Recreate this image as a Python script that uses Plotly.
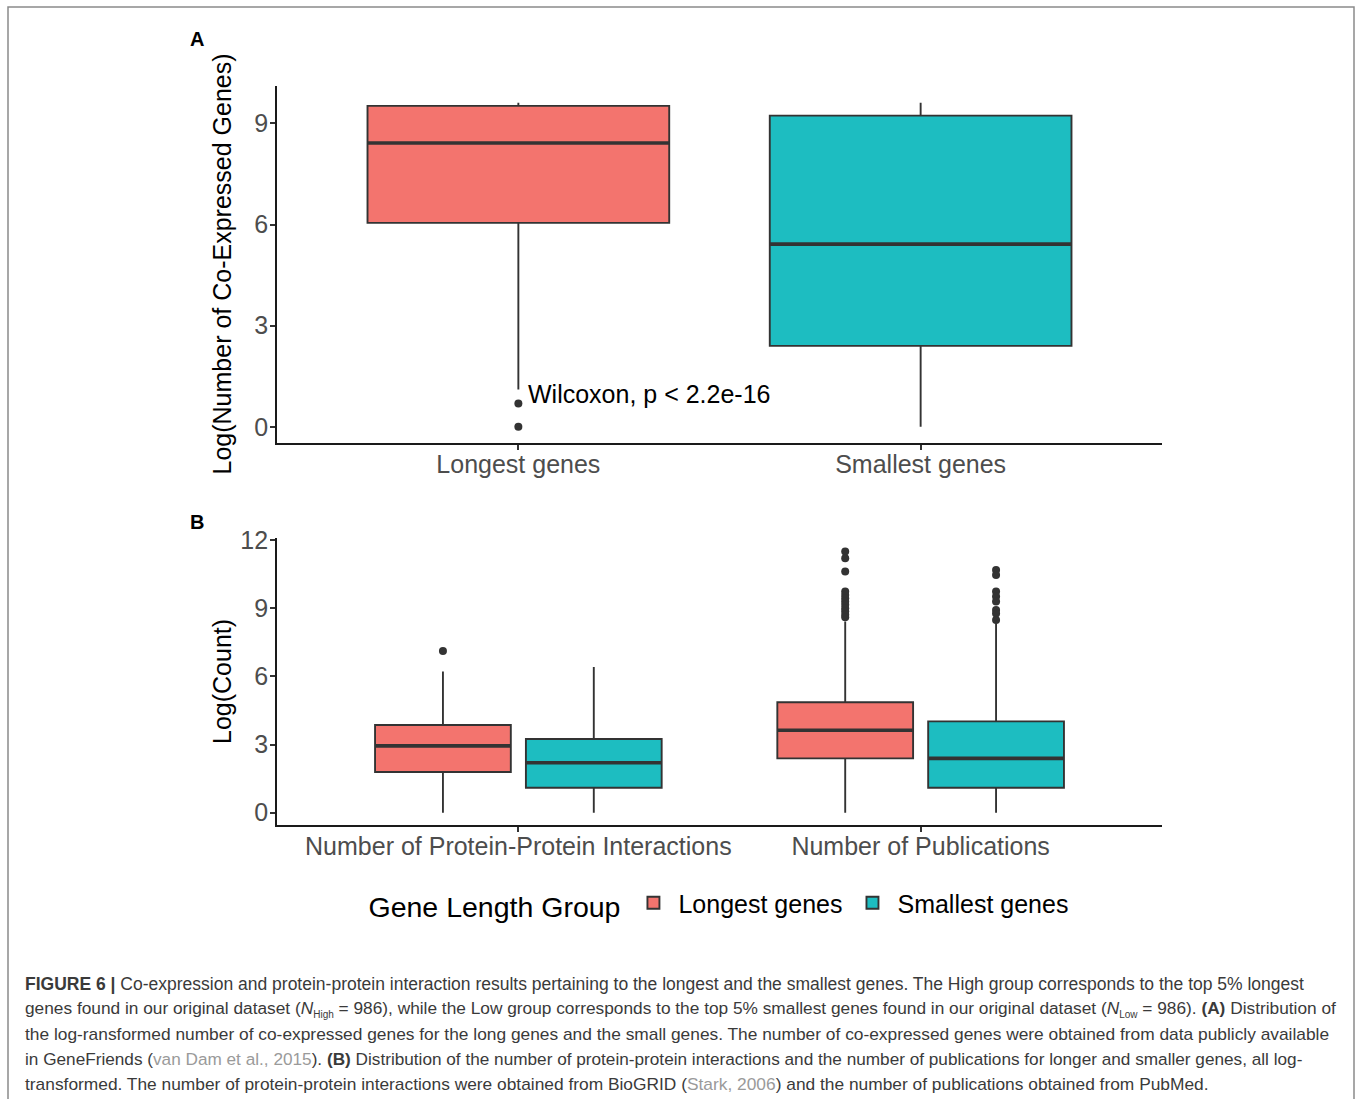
import plotly.graph_objects as go

# ---------------- data ----------------
groups = ["Longest genes", "Smallest genes"]
colors = ["#F3746E", "#1DBDC1"]

# Panel A: Log(Number of Co-Expressed Genes)
a_q1 = [6.05, 2.40]
a_median = [8.42, 5.42]
a_q3 = [9.52, 9.23]
a_lowerfence = [1.11, 0.0]
a_upperfence = [9.61, 9.61]
a_outliers = [[0.69, 0.0], []]
a_test_label = "Wilcoxon, p < 2.2e-16"

# Panel B: Log(Count)
b_categories = ["Number of Protein-Protein Interactions", "Number of Publications"]
b_q1 = [[1.79, 2.39], [1.10, 1.10]]
b_median = [[2.94, 3.63], [2.20, 2.39]]
b_q3 = [[3.86, 4.86], [3.24, 4.02]]
b_lowerfence = [[0.0, 0.0], [0.0, 0.0]]
b_upperfence = [[6.21, 8.41], [6.41, 8.34]]
b_outliers = [
    [[7.12], [11.49, 11.20, 10.61, 9.73, 9.58, 9.44, 9.29, 9.15, 9.00, 8.86, 8.71, 8.60]],
    [[], [10.68, 10.46, 9.73, 9.51, 9.29, 8.92, 8.77, 8.48]],
]

a_ticks = [0, 3, 6, 9]
b_ticks = [0, 3, 6, 9, 12]

SUB = "<sub><span style='font-size:10px'>%s</span></sub>"
caption_lines = [
    "<b>FIGURE 6 |</b> Co-expression and protein-protein interaction results pertaining to the longest and the smallest genes. The High group corresponds to the top 5% longest",
    "genes found in our original dataset (<i>N</i>" + SUB % "High" + " = 986), while the Low group corresponds to the top 5% smallest genes found in our original dataset (<i>N</i>" + SUB % "Low" + " = 986). <b>(A)</b> Distribution of",
    "the log-ransformed number of co-expressed genes for the long genes and the small genes. The number of co-expressed genes were obtained from data publicly available",
    "in GeneFriends (<span style='color:#9a9a9a'>van Dam et al., 2015</span>). <b>(B)</b> Distribution of the number of protein-protein interactions and the number of publications for longer and smaller genes, all log-",
    "transformed. The number of protein-protein interactions were obtained from BioGRID (<span style='color:#9a9a9a'>Stark, 2006</span>) and the number of publications obtained from PubMed.",
]
caption_sizes = [17.5, 17.3, 17.35, 17.2, 17.35]

# ---------------- style ----------------
W, H = 1356, 1099
FONT = "Liberation Sans, Arial, Helvetica, sans-serif"
OUT = "#333333"
BOXW_A = 0.75
DODGE = 0.1875
BOXW_B = 0.3375

def px_x(p):
    return p / W

def px_y(p):
    return 1 - p / H

fig = go.Figure()

# Panel A boxes
for i, g in enumerate(groups):
    fig.add_trace(go.Box(
        x=[i], q1=[a_q1[i]], median=[a_median[i]], q3=[a_q3[i]],
        lowerfence=[a_lowerfence[i]], upperfence=[a_upperfence[i]],
        width=BOXW_A, fillcolor=colors[i], line=dict(color=OUT, width=1.9),
        whiskerwidth=0, boxpoints=False, name=g, legendgroup=g, showlegend=False,
        xaxis="x", yaxis="y", hoverinfo="skip"))
    fig.add_trace(go.Scatter(
        x=[i - BOXW_A / 2, i + BOXW_A / 2], y=[a_median[i]] * 2, mode="lines",
        line=dict(color=OUT, width=3.6), showlegend=False, hoverinfo="skip",
        xaxis="x", yaxis="y"))
    if a_outliers[i]:
        fig.add_trace(go.Scatter(
            x=[i] * len(a_outliers[i]), y=a_outliers[i], mode="markers",
            marker=dict(color=OUT, size=8), showlegend=False, hoverinfo="skip",
            xaxis="x", yaxis="y"))

# Panel B boxes
for j, g in enumerate(groups):
    off = -DODGE if j == 0 else DODGE
    pos = [k + off for k in range(len(b_categories))]
    fig.add_trace(go.Box(
        x=pos, q1=b_q1[j], median=b_median[j], q3=b_q3[j],
        lowerfence=b_lowerfence[j], upperfence=b_upperfence[j],
        width=BOXW_B, fillcolor=colors[j], line=dict(color=OUT, width=1.9),
        whiskerwidth=0, boxpoints=False, name=g, legendgroup=g, showlegend=True,
        xaxis="x2", yaxis="y2", hoverinfo="skip"))
    mx, my = [], []
    for k, p in enumerate(pos):
        mx += [p - BOXW_B / 2, p + BOXW_B / 2, None]
        my += [b_median[j][k], b_median[j][k], None]
    fig.add_trace(go.Scatter(
        x=mx, y=my, mode="lines", line=dict(color=OUT, width=3.6),
        showlegend=False, hoverinfo="skip", xaxis="x2", yaxis="y2"))
    ox, oy = [], []
    for k, p in enumerate(pos):
        ox += [p] * len(b_outliers[j][k])
        oy += b_outliers[j][k]
    if oy:
        fig.add_trace(go.Scatter(
            x=ox, y=oy, mode="markers", marker=dict(color=OUT, size=8),
            showlegend=False, hoverinfo="skip", xaxis="x2", yaxis="y2"))

xdom = [px_x(277), px_x(1162)]
axis_common = dict(
    showgrid=False, zeroline=False, showline=True, linecolor="#1a1a1a", linewidth=1.8,
    ticks="outside", ticklen=5, tickwidth=1.5, tickcolor=OUT, automargin=False,
    tickfont=dict(family=FONT, size=25, color="#4D4D4D"),
)

fig.update_layout(
    width=W, height=H, autosize=False,
    margin=dict(l=0, r=0, t=0, b=0, autoexpand=False),
    paper_bgcolor="white", plot_bgcolor="white",
    font=dict(family=FONT),
    xaxis=dict(domain=xdom, range=[-0.6, 1.6], tickvals=list(range(len(groups))),
               ticktext=groups, anchor="y", ticklabelstandoff=-7, **axis_common),
    yaxis=dict(domain=[px_y(443), px_y(86)], range=[-0.48, 10.11], tickvals=a_ticks,
               anchor="x", ticklabelstandoff=-3, **axis_common),
    xaxis2=dict(domain=xdom, range=[-0.6, 1.6], tickvals=list(range(len(b_categories))),
                ticktext=b_categories, anchor="y2", ticklabelstandoff=-7, **axis_common),
    yaxis2=dict(domain=[px_y(825.3), px_y(538.4)], range=[-0.555, 12.07], tickvals=b_ticks,
                anchor="x2", ticklabelstandoff=-3, **axis_common),
    showlegend=True,
    legend=dict(
        orientation="h", x=px_x(720), xanchor="center", y=px_y(904), yanchor="middle",
        font=dict(family=FONT, size=25, color="black"),
        title=dict(text="Gene Length Group", side="left",
                   font=dict(family=FONT, size=28.5, color="black")),
        bgcolor="rgba(0,0,0,0)", itemwidth=40, traceorder="normal",
    ),
)

def ann(text, x, y, size, color="black", xanchor="center", yanchor="middle", **kw):
    return dict(text=text, x=x, y=y, xref=kw.pop("xref", "paper"), yref=kw.pop("yref", "paper"),
                xanchor=xanchor, yanchor=yanchor, showarrow=False,
                font=dict(family=FONT, size=size, color=color), **kw)

annotations = [
    ann("<b>A</b>", px_x(197), px_y(39), 20),
    ann("<b>B</b>", px_x(197), px_y(522), 20),
    ann("Log(Number of Co-Expressed Genes)", px_x(222), px_y(264.5), 25, textangle=-90),
    ann("Log(Count)", px_x(222), px_y(682), 25, textangle=-90),
    ann(a_test_label, 0.02, 0.97, 25, xanchor="left", xref="x", yref="y"),
]
for n, line in enumerate(caption_lines):
    annotations.append(ann(line, px_x(23), px_y(984 + 25 * n), caption_sizes[n],
                           color="#3a3a3a", xanchor="left", align="left"))
fig.update_layout(annotations=annotations)

fig.add_shape(type="rect", xref="paper", yref="paper",
              x0=px_x(8), x1=px_x(1354), y0=-0.02, y1=px_y(7),
              line=dict(color="#8a8a8a", width=1.5), fillcolor="rgba(0,0,0,0)")

fig.write_html("out.html", config={"displayModeBar": False},
               post_script="document.body.style.margin='0px';document.body.style.overflow='hidden';")
